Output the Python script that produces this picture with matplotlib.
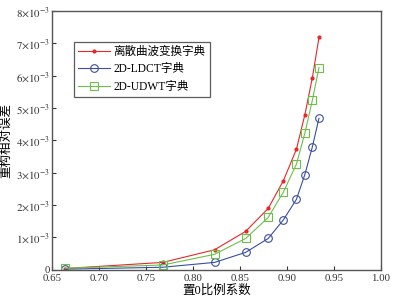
import matplotlib
matplotlib.use("Agg")
import matplotlib.pyplot as plt

plt.rcParams['font.family'] = ['Liberation Serif', 'Noto Sans CJK SC']
plt.rcParams['mathtext.fontset'] = 'stix'

x = [0.664, 0.768, 0.823, 0.856, 0.880, 0.896, 0.910, 0.919, 0.927, 0.934]
curvelet = [0.03, 0.22, 0.61, 1.18, 1.89, 2.74, 3.72, 4.79, 5.94, 7.18]
ldct = [0.01, 0.07, 0.22, 0.53, 0.96, 1.53, 2.17, 2.94, 3.80, 4.68]
udwt = [0.04, 0.14, 0.47, 0.96, 1.61, 2.39, 3.26, 4.22, 5.24, 6.25]
labels = ['离散曲波变换字典', '2D-LDCT字典', '2D-UDWT字典']
xticks = [0.65, 0.70, 0.75, 0.80, 0.85, 0.90, 0.95, 1.00]
yticks = [0, 1, 2, 3, 4, 5, 6, 7, 8]

fig = plt.figure(figsize=(3.99, 3.02), dpi=100)
ax = fig.add_axes([0.130, 0.1076, 0.825, 0.856])

s = 1e-3
ax.plot(x, [v * s for v in curvelet], color='#e8262a', lw=0.8, marker='.', ms=4, label=labels[0])
ax.plot(x, [v * s for v in ldct], color='#3a4fa0', lw=0.8, marker='o', ms=5.5, mfc='none', mew=0.8, label=labels[1])
ax.plot(x, [v * s for v in udwt], color='#6cc04a', lw=0.8, marker='s', ms=5.5, mfc='none', mew=0.8, label=labels[2])

ax.set_xlim(0.65, 1.00)
ax.set_ylim(0, 8e-3)
ax.set_xticks(xticks)
ax.set_xticklabels([f'{t:.2f}' for t in xticks])
ax.set_yticks([t * s for t in yticks])
ax.set_yticklabels(['0'] + [rf'${t}{{\times}}10^{{-3}}$' for t in yticks[1:]])
ax.tick_params(axis='both', direction='in', length=3, width=0.8, labelsize=7.8,
               top=False, right=False, colors='#333333')
ax.tick_params(axis='x', pad=3)
ax.tick_params(axis='y', pad=1.5)
for sp in ax.spines.values():
    sp.set_color('#555555')
    sp.set_linewidth(1.0)

ax.set_xlabel('置0比例系数', fontsize=9, labelpad=1)
ax.set_ylabel('重构相对误差', fontsize=9, labelpad=3)

leg = ax.legend(loc='upper left', bbox_to_anchor=(0.067, 0.879), fontsize=8.3, frameon=True,
                fancybox=False, edgecolor='#333333', handlelength=2.8, borderpad=0.35,
                labelspacing=0.45, handletextpad=0.3, borderaxespad=0)
leg.get_frame().set_linewidth(0.9)

fig.savefig('out.png', dpi=100)
